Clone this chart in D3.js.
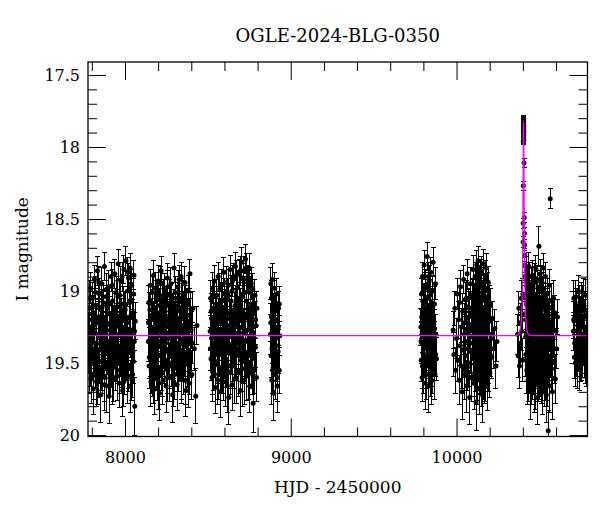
<!DOCTYPE html>
<html>
<head>
<meta charset="utf-8">
<script src="https://cdn.jsdelivr.net/npm/d3@7"></script>
<style>
  body { margin: 0; background: #fff; }
</style>
</head>
<body>
<svg id="chart" width="600" height="512"></svg>
<script>
// Light curve, one array per observing season: [HJD-2450000, I mag, error]
const season1 = [
  [7781,19.42,.15],[7784,19.12,.12],[7786,19.55,.16],[7789,19.25,.13],[7791,18.98,.11],[7794,19.38,.14],
  [7796,19.61,.17],[7799,19.20,.12],[7801,19.47,.15],[7804,19.05,.11],[7806,19.33,.14],[7809,19.68,.18],
  [7811,19.15,.12],[7814,19.40,.14],[7816,18.92,.10],[7819,19.29,.13],[7821,19.52,.16],[7824,19.10,.12],
  [7826,19.36,.14],[7829,19.63,.17],[7831,19.22,.13],[7834,18.86,.10],[7836,19.44,.15],[7839,19.18,.12],
  [7841,19.58,.16],[7844,19.31,.13],[7846,19.02,.11],[7849,19.49,.15],[7851,19.26,.13],[7854,19.72,.19],
  [7856,19.13,.12],[7859,19.39,.14],[7861,18.95,.11],[7864,19.55,.16],[7866,19.28,.13],[7869,19.08,.12],
  [7871,19.45,.15],[7874,19.34,.14],[7876,18.83,.10],[7879,19.60,.17],[7881,19.19,.12],[7884,19.41,.14],
  [7886,19.04,.11],[7889,19.27,.13],[7891,19.66,.18],[7894,19.12,.12],[7896,19.37,.14],[7899,19.50,.16],
  [7901,18.97,.11],[7904,19.73,.19],[7906,19.46,.15],[7909,19.16,.12],[7911,19.57,.16],[7914,19.30,.13],
  [7916,18.90,.10],[7919,19.43,.15],[7921,19.21,.13],[7924,19.62,.17],[7926,19.07,.11],[7929,19.35,.14],
  [7931,19.23,.13],[7934,19.14,.12],[7936,19.40,.14],[7939,18.88,.10],[7941,19.53,.16],[7944,19.25,.13],
  [7946,19.01,.11],[7949,19.48,.15],[7951,19.32,.14],[7954,19.11,.12],[7956,19.59,.17],[7959,18.81,.10],
  [7961,19.38,.14],[7964,19.20,.12],[7966,19.64,.17],[7969,19.03,.11],[7971,19.44,.15],[7974,19.28,.13],
  [7976,18.93,.10],[7979,19.51,.16],[7981,19.17,.12],[7984,19.36,.14],[7986,19.69,.18],[7989,19.09,.12],
  [7991,19.42,.15],[7994,18.85,.10],[7996,19.26,.13],[7999,19.56,.16],[8001,19.13,.12],[8004,19.33,.14],
  [8006,18.79,.10],[8009,19.47,.15],[8011,19.22,.13],[8014,19.61,.17],[8016,19.00,.11],[8019,19.39,.14],
  [8021,18.91,.10],[8024,19.54,.16],[8026,19.18,.12],[8029,19.30,.13],[8031,18.84,.10],[8034,19.66,.18],
  [8036,19.06,.11],[8039,19.43,.15],[8041,18.96,.11],[8044,19.27,.13],[8046,19.58,.16],[8049,19.15,.12],
  [8051,19.49,.15],[8054,18.89,.10],[8056,19.35,.14],[8059,19.80,.20],[8062,19.21,.13],
  [7782.5,19.28,.13],[7787.5,19.05,.12],[7792.5,19.50,.16],[7797.5,19.33,.14],[7802.5,19.16,.12],[7807.5,19.58,.17],
  [7812.5,19.24,.13],[7817.5,19.44,.15],[7822.5,19.01,.11],[7827.5,19.37,.14],[7832.5,19.62,.17],[7837.5,19.20,.13],
  [7842.5,18.94,.11],[7847.5,19.41,.15],[7852.5,19.29,.13],[7857.5,19.53,.16],[7862.5,19.11,.12],[7867.5,19.46,.15],
  [7872.5,19.19,.12],[7877.5,19.65,.18],[7882.5,19.31,.14],[7887.5,18.99,.11],[7892.5,19.43,.15],[7897.5,19.23,.13],
  [7902.5,19.57,.16],[7907.5,19.09,.12],[7912.5,19.35,.14],[7917.5,19.51,.16],[7922.5,18.96,.11],[7927.5,19.27,.13],
  [7932.5,19.60,.17],[7937.5,19.14,.12],[7942.5,19.39,.14],[7947.5,19.22,.13],[7952.5,19.49,.15],[7957.5,19.04,.11],
  [7962.5,19.30,.14],[7967.5,19.55,.16],[7972.5,19.17,.12],[7977.5,19.40,.15],[7982.5,18.90,.10],[7987.5,19.26,.13],
  [7992.5,19.63,.17],[7997.5,19.12,.12],[8002.5,19.45,.15],[8007.5,19.21,.13],[8012.5,19.36,.14],[8017.5,18.87,.10],
  [8022.5,19.52,.16],[8027.5,19.08,.12],[8032.5,19.32,.14],[8037.5,19.59,.17],[8042.5,19.18,.12],[8047.5,19.42,.15],
  [8052.5,19.02,.11],[8057.5,19.28,.13]
];
const season2 = [
  [8141,19.35,.14],[8144,19.08,.12],[8146,19.52,.16],[8149,19.21,.13],[8152,18.96,.11],[8154,19.44,.15],
  [8157,19.63,.17],[8160,19.17,.12],[8162,19.30,.13],[8165,19.01,.11],[8168,19.57,.16],[8170,19.26,.13],
  [8173,18.89,.10],[8176,19.41,.15],[8178,19.12,.12],[8181,19.68,.18],[8184,19.23,.13],[8186,19.47,.15],
  [8189,19.04,.11],[8192,19.34,.14],[8194,19.59,.17],[8197,19.15,.12],[8200,18.93,.11],[8202,19.38,.14],
  [8205,19.27,.13],[8208,19.71,.19],[8210,19.10,.12],[8213,19.45,.15],[8216,19.19,.12],[8218,18.86,.10],
  [8221,19.53,.16],[8224,19.32,.14],[8226,19.06,.11],[8229,19.62,.17],[8232,19.24,.13],[8234,19.40,.14],
  [8237,18.99,.11],[8240,19.49,.15],[8242,19.14,.12],[8245,19.36,.14],[8248,19.66,.18],[8250,19.09,.12],
  [8253,19.29,.13],[8256,18.91,.10],[8258,19.55,.16],[8261,19.20,.13],[8264,19.43,.15],[8266,19.03,.11],
  [8269,19.60,.17],[8272,19.31,.14],[8274,19.16,.12],[8277,18.95,.11],[8280,19.50,.16],[8282,19.25,.13],
  [8285,19.39,.14],[8288,19.72,.19],[8290,19.11,.12],[8293,19.46,.15],[8296,18.84,.10],[8298,19.33,.14],
  [8301,19.58,.17],[8304,19.18,.12],[8306,19.05,.11],[8309,19.42,.15],[8312,19.28,.13],[8314,19.65,.18],
  [8317,19.13,.12],[8320,18.97,.11],[8322,19.37,.14],[8325,19.54,.16],[8328,19.22,.13],[8330,19.07,.12],
  [8333,19.48,.15],[8336,19.34,.14],[8338,18.90,.10],[8341,19.61,.17],[8344,19.19,.12],[8346,19.41,.15],
  [8349,19.02,.11],[8352,19.30,.13],[8354,19.56,.16],[8357,19.15,.12],[8360,19.44,.15],[8362,18.94,.11],
  [8365,19.26,.13],[8368,19.69,.18],[8370,19.10,.12],[8373,19.38,.14],[8376,19.21,.13],[8378,19.51,.16],
  [8381,19.00,.11],[8384,19.35,.14],[8386,19.64,.17],[8389,19.17,.12],[8392,18.88,.10],[8395,19.45,.15],
  [8399,19.27,.13],[8404,19.58,.17],[8410,19.12,.12],[8418,19.40,.15],[8427,19.73,.19],[8434,19.24,.13],
  [8142.5,19.22,.13],[8147.5,19.46,.15],[8150.5,19.13,.12],[8155.5,19.30,.14],[8158.5,19.55,.16],[8163.5,19.09,.12],
  [8166.5,19.38,.14],[8171.5,19.61,.17],[8174.5,19.19,.12],[8179.5,19.42,.15],[8182.5,18.98,.11],[8187.5,19.27,.13],
  [8190.5,19.50,.16],[8195.5,19.06,.12],[8198.5,19.35,.14],[8203.5,19.64,.18],[8206.5,19.16,.12],[8211.5,19.31,.14],
  [8214.5,18.94,.11],[8219.5,19.44,.15],[8222.5,19.21,.13],[8227.5,19.57,.16],[8230.5,19.03,.11],[8235.5,19.28,.13],
  [8238.5,19.48,.15],[8243.5,19.11,.12],[8246.5,19.40,.15],[8251.5,19.24,.13],[8254.5,19.60,.17],[8259.5,18.97,.11],
  [8262.5,19.33,.14],[8267.5,19.18,.12],[8270.5,19.52,.16],[8275.5,19.29,.13],[8278.5,19.07,.12],[8283.5,19.45,.15],
  [8286.5,19.14,.12],[8291.5,19.36,.14],[8294.5,19.63,.17],[8299.5,19.20,.13],[8302.5,19.01,.11],[8307.5,19.39,.14],
  [8310.5,19.26,.13],[8315.5,19.54,.16],[8318.5,19.10,.12],[8323.5,19.32,.14],[8326.5,18.92,.10],[8331.5,19.47,.15],
  [8334.5,19.23,.13],[8339.5,19.58,.17],[8342.5,19.05,.12],[8347.5,19.37,.14],[8350.5,19.15,.12],[8355.5,19.43,.15],
  [8358.5,19.28,.13],[8363.5,19.62,.17],[8366.5,19.08,.12],[8371.5,19.34,.14],[8374.5,19.50,.16],[8379.5,19.17,.12],
  [8382.5,19.41,.15],[8387.5,19.25,.13],[8390.5,19.56,.16],[8397.5,19.13,.12],[8407.5,19.36,.14]
];
const season3 = [
  [8514,19.28,.13],[8517,19.05,.12],[8519,19.47,.15],[8522,19.19,.12],[8525,19.60,.17],[8527,18.98,.11],
  [8530,19.36,.14],[8533,19.12,.12],[8535,19.53,.16],[8538,19.25,.13],[8541,18.93,.11],[8543,19.42,.15],
  [8546,19.67,.18],[8549,19.16,.12],[8551,19.31,.13],[8554,19.03,.11],[8557,19.49,.15],[8559,19.22,.13],
  [8562,18.90,.10],[8565,19.58,.17],[8567,19.34,.14],[8570,19.09,.12],[8573,19.44,.15],[8575,19.70,.18],
  [8578,19.18,.12],[8581,18.96,.11],[8583,19.39,.14],[8586,19.27,.13],[8589,19.55,.16],[8591,19.06,.12],
  [8594,19.33,.14],[8597,18.87,.10],[8599,19.46,.15],[8602,19.21,.13],[8605,19.63,.17],[8607,19.11,.12],
  [8610,19.37,.14],[8613,18.94,.11],[8615,19.51,.16],[8618,19.24,.13],[8621,19.02,.11],[8623,19.41,.15],
  [8626,19.74,.19],[8629,19.15,.12],[8631,19.30,.13],[8634,18.85,.10],[8637,19.56,.16],[8639,19.20,.13],
  [8642,19.43,.15],[8645,19.00,.11],[8647,19.65,.18],[8650,19.26,.13],[8653,18.91,.10],[8655,19.38,.14],
  [8658,19.13,.12],[8661,19.52,.16],[8663,19.29,.13],[8666,18.83,.10],[8669,19.45,.15],[8671,19.08,.12],
  [8674,19.61,.17],[8677,19.23,.13],[8679,18.97,.11],[8682,19.40,.14],[8685,19.17,.12],[8687,19.57,.16],
  [8690,18.88,.10],[8693,19.32,.14],[8695,19.69,.18],[8698,19.10,.12],[8701,19.48,.15],[8703,18.80,.10],
  [8706,19.25,.13],[8709,19.54,.16],[8711,19.04,.11],[8714,19.36,.14],[8717,18.86,.10],[8719,19.62,.17],
  [8722,19.19,.12],[8725,19.44,.15],[8727,18.78,.10],[8730,19.28,.13],[8733,19.07,.12],[8735,19.59,.17],
  [8738,18.92,.10],[8741,19.35,.14],[8743,19.14,.12],[8746,19.50,.16],[8749,18.84,.10],[8751,19.27,.13],
  [8754,19.66,.18],[8757,19.01,.11],[8759,19.42,.15],[8762,18.95,.11],[8765,19.22,.13],[8767,19.56,.16],
  [8770,19.09,.12],[8773,19.78,.20],[8775,19.33,.14],[8778,19.16,.12],[8781,19.47,.15],[8784,19.03,.11],
  [8787,19.39,.14],[8790,19.24,.13],[8793,19.60,.17],[8796,19.12,.12],
  [8515.5,19.40,.15],[8520.5,19.14,.12],[8523.5,19.33,.14],[8528.5,19.56,.16],[8531.5,19.21,.13],[8536.5,19.04,.11],
  [8539.5,19.45,.15],[8544.5,19.27,.13],[8547.5,19.51,.16],[8552.5,19.09,.12],[8555.5,19.36,.14],[8560.5,19.62,.17],
  [8563.5,19.17,.12],[8568.5,19.41,.15],[8571.5,18.99,.11],[8576.5,19.30,.14],[8579.5,19.54,.16],[8584.5,19.12,.12],
  [8587.5,19.38,.14],[8592.5,19.23,.13],[8595.5,19.59,.17],[8600.5,19.02,.11],[8603.5,19.34,.14],[8608.5,19.47,.15],
  [8611.5,19.15,.12],[8616.5,19.66,.18],[8619.5,19.28,.13],[8624.5,18.96,.11],[8627.5,19.43,.15],[8632.5,19.19,.12],
  [8635.5,19.52,.16],[8640.5,19.07,.12],[8643.5,19.31,.14],[8648.5,18.93,.11],[8651.5,19.48,.15],[8656.5,19.24,.13],
  [8659.5,19.61,.17],[8664.5,19.10,.12],[8667.5,19.37,.14],[8672.5,18.89,.10],[8675.5,19.44,.15],[8680.5,19.20,.13],
  [8683.5,19.55,.16],[8688.5,19.05,.11],[8691.5,19.29,.13],[8696.5,18.86,.10],[8699.5,19.40,.15],[8704.5,19.14,.12],
  [8707.5,19.63,.17],[8712.5,18.91,.10],[8715.5,19.26,.13],[8720.5,19.49,.15],[8723.5,19.01,.11],[8728.5,19.34,.14],
  [8731.5,18.84,.10],[8736.5,19.45,.15],[8739.5,19.18,.12],[8744.5,19.58,.17],[8747.5,18.97,.11],[8752.5,19.32,.14],
  [8755.5,19.11,.12],[8760.5,19.52,.16],[8763.5,19.25,.13],[8768.5,19.41,.15],[8771.5,18.99,.11],[8776.5,19.29,.13],
  [8782.5,19.55,.16],[8788.5,19.20,.13]
];
const season4 = [
  [8878,19.30,.14],[8880,18.95,.11],[8882,19.45,.15],[8884,19.18,.12],[8886,19.62,.17],[8888,18.92,.11],
  [8890,19.36,.14],[8892,19.10,.12],[8894,19.53,.16],[8896,19.24,.13],[8898,19.71,.19],[8900,19.05,.12],
  [8902,19.40,.15],[8904,19.28,.13],[8906,19.58,.17],[8908,19.14,.12],[8910,19.33,.14],[8913,19.48,.15],
  [8915,19.02,.11],[8918,19.66,.18],[8921,19.21,.13],[8924,19.42,.15],[8927,19.12,.12],[8930,19.55,.16],
  [8934,19.31,.14],
  [8879,19.22,.13],[8883,19.05,.12],[8887,19.40,.15],[8891,19.55,.16],[8895,19.14,.12],[8899,19.33,.14],
  [8903,18.98,.11],[8907,19.47,.15],[8911,19.20,.13],[8916,19.38,.14],[8919,19.60,.17],[8925,19.25,.13],
  [8931,19.09,.12]
];
const season5 = [
  [9785,19.25,.13],[9787,19.48,.15],[9789,19.02,.11],[9791,19.36,.14],[9793,19.60,.17],[9795,18.90,.10],
  [9797,19.20,.13],[9799,19.43,.15],[9801,19.11,.12],[9803,19.55,.16],[9805,18.82,.10],[9807,19.31,.14],
  [9809,19.08,.12],[9811,19.64,.18],[9813,19.26,.13],[9815,18.96,.11],[9817,19.40,.15],[9819,19.15,.12],
  [9821,19.52,.16],[9823,18.76,.10],[9825,19.34,.14],[9827,19.05,.11],[9829,19.46,.15],[9831,19.22,.13],
  [9833,19.66,.18],[9835,18.93,.11],[9837,19.38,.14],[9839,19.13,.12],[9841,19.57,.16],[9843,19.28,.13],
  [9845,18.87,.10],[9847,19.44,.15],[9849,19.18,.12],[9851,19.62,.17],[9853,19.00,.11],[9855,19.33,.14],
  [9857,19.50,.16],[9859,18.80,.10],[9861,19.23,.13],[9864,19.41,.15],[9867,19.09,.12],[9870,19.58,.17],
  [9873,18.95,.11],[9876,19.30,.14],[9879,19.47,.15],
  [9786,19.35,.14],[9790,19.18,.12],[9794,19.52,.16],[9798,19.07,.12],[9802,19.30,.14],[9806,19.45,.15],
  [9810,18.98,.11],[9814,19.24,.13],[9818,19.58,.17],[9822,19.12,.12],[9826,19.39,.14],[9830,18.90,.10],
  [9834,19.28,.13],[9838,19.50,.16],[9842,19.03,.11],[9846,19.33,.14],[9850,19.20,.13],[9854,19.55,.16],
  [9858,19.10,.12],[9862,19.37,.14],[9868,19.26,.13],[9874,19.44,.15]
];
const season6 = [
  [9980,19.27,.13],[9984,19.44,.15],[9990,19.12,.12],[9995,19.55,.16],[10000,19.33,.14],[10004,19.02,.11],
  [10008,19.48,.15],[10012,19.20,.13],[10016,19.62,.17],[10019,19.08,.12],[10022,19.38,.14],[10025,18.97,.11],
  [10028,19.52,.16],[10031,19.25,.13],[10034,19.70,.19],[10037,19.14,.12],[10040,19.41,.15],[10043,18.92,.10],
  [10046,19.30,.14],[10049,19.58,.17],[10052,19.06,.12],[10055,19.45,.15],[10058,19.19,.12],[10061,19.66,.18],
  [10064,18.88,.10],[10067,19.35,.14],[10070,19.11,.12],[10073,19.50,.16],[10076,19.27,.13],[10079,19.74,.19],
  [10082,18.95,.11],[10085,19.42,.15],[10088,19.16,.12],[10091,19.60,.17],[10094,19.03,.11],[10097,19.32,.14],
  [10100,18.85,.10],[10102,19.47,.15],[10104,19.22,.13],[10106,19.64,.18],[10108,19.09,.12],[10110,19.37,.14],
  [10112,18.90,.10],[10114,19.54,.16],[10116,19.18,.12],[10118,19.77,.20],[10120,19.29,.13],[10122,18.82,.10],
  [10124,19.43,.15],[10126,19.05,.11],[10128,19.59,.17],[10130,18.79,.10],[10132,19.25,.13],[10134,19.48,.15],
  [10136,19.13,.12],[10138,19.68,.18],[10140,18.93,.11],[10142,19.36,.14],[10144,19.20,.13],[10146,19.56,.16],
  [10148,18.86,.10],[10150,19.31,.14],[10152,19.07,.12],[10154,19.45,.15],[10156,19.72,.19],[10158,19.15,.12],
  [10160,18.81,.10],[10162,19.40,.15],[10164,19.24,.13],[10166,19.61,.17],[10168,19.00,.11],[10170,19.34,.14],
  [10172,18.89,.10],[10174,19.52,.16],[10176,19.17,.12],[10178,19.42,.15],[10180,18.84,.10],[10182,19.28,.13],
  [10184,19.65,.18],[10186,19.04,.11],[10189,19.38,.14],[10192,18.94,.11],[10195,19.49,.15],[10198,19.21,.13],
  [10201,19.57,.17],[10205,19.10,.12],[10209,19.33,.14],[10213,19.46,.15],[10218,19.19,.12],[10224,19.40,.14],
  [10231,19.26,.13],[10238,19.52,.16],[10244,19.35,.14],
  [10047.5,19.22,.13],[10053.5,19.40,.15],[10059.5,19.05,.12],[10065.5,19.53,.16],[10071.5,19.28,.13],[10077.5,19.12,.12],
  [10083.5,19.36,.14],[10089.5,19.60,.17],[10095.5,19.18,.12],[10101,19.31,.14],[10103,19.02,.11],[10105,19.44,.15],
  [10107,19.25,.13],[10109,19.57,.16],[10111,19.14,.12],[10113,19.35,.14],[10115,18.96,.11],[10117,19.46,.15],
  [10119,19.21,.13],[10121,19.62,.17],[10123,19.09,.12],[10125,19.33,.14],[10127,18.92,.10],[10129,19.50,.16],
  [10131,19.17,.12],[10133,19.38,.14],[10135,19.01,.11],[10137,19.27,.13],[10139,19.55,.16],[10141,19.11,.12],
  [10143,19.43,.15],[10145,18.88,.10],[10147,19.30,.14],[10149,19.63,.17],[10151,19.20,.13],[10153,19.39,.14],
  [10155,19.04,.11],[10157,19.48,.15],[10159,19.26,.13],[10161,19.58,.17],[10163,18.95,.11],[10165,19.34,.14],
  [10167,19.13,.12],[10169,19.45,.15],[10171,19.23,.13],[10173,19.60,.17],[10175,19.06,.12],[10177,19.32,.14],
  [10179,19.51,.16],[10181,19.15,.12],[10183,19.41,.15],[10185,18.98,.11],[10187,19.29,.13],[10190,19.54,.16],
  [10193,19.18,.12],[10196,19.36,.14],[10199,19.08,.12],[10203,19.44,.15]
];
const season7 = [
  [10368,19.30,.14],[10372,19.45,.15],[10376,19.12,.12],[10380,19.52,.16],[10384,19.22,.13],[10387,19.38,.14],
  [10390,19.05,.12],[10393,19.28,.13],[10396,19.48,.15],[10398,19.16,.12],[10400,19.02,.11],
  [10401.5,18.66,.04],[10402.3,18.53,.035],[10402.8,18.27,.03],[10403.1,17.96,.025],[10403.4,17.93,.025],
  [10403.7,17.88,.02],[10404.0,17.84,.02],[10404.2,17.81,.02],[10404.4,17.86,.02],[10404.6,17.80,.02],
  [10404.8,17.83,.02],[10405.0,17.87,.02],[10405.2,17.82,.02],[10405.4,17.90,.025],[10405.6,17.85,.02],
  [10405.8,17.92,.025],[10406.0,17.89,.025],[10406.3,17.95,.025],[10407.2,18.11,.03],[10408.4,18.49,.035],
  [10409.3,18.60,.04],[10410.2,18.68,.04],[10411.3,18.75,.045],[10412.2,18.82,.05],[10413.4,18.90,.06],
  [10415,19.05,.11],[10417,19.32,.14],[10419,18.92,.10],[10421,19.48,.15],[10423,19.15,.12],[10425,18.86,.10],
  [10427,19.40,.15],[10429,19.22,.13],[10431,19.62,.17],[10433,19.00,.11],[10435,19.35,.14],[10437,18.83,.10],
  [10439,19.54,.16],[10441,19.18,.12],[10443,19.44,.15],[10445,19.08,.12],[10447,19.70,.19],[10449,19.27,.13],
  [10451,18.95,.11],[10453,19.38,.14],[10455,19.12,.12],[10457,19.58,.17],[10459,18.89,.10],[10461,19.30,.14],
  [10463,19.50,.16],[10465,19.03,.11],[10467,19.24,.13],[10469,19.66,.18],[10471,18.91,.10],[10473,19.42,.15],
  [10475,19.16,.12],[10477,19.55,.16],[10479,18.85,.10],[10481,19.33,.14],[10483,19.10,.12],[10485,19.47,.15],
  [10487,19.74,.19],[10489,19.20,.13],[10491,18.97,.11],[10493,19.37,.14],[10495,19.60,.17],[10497,18.69,.14],
  [10499,19.26,.13],[10501,19.06,.12],[10503,19.45,.15],[10505,18.88,.10],[10507,19.31,.14],[10509,19.57,.16],
  [10511,19.14,.12],[10513,18.93,.11],[10515,19.41,.15],[10517,19.68,.18],[10519,19.19,.12],[10521,19.01,.11],
  [10523,19.36,.14],[10525,18.84,.10],[10527,19.52,.16],[10529,19.23,.13],[10531,19.63,.17],[10533,19.09,.12],
  [10535,19.43,.15],[10537,18.90,.10],[10539,19.29,.13],[10541,19.72,.19],[10543,19.13,.12],[10545,19.48,.15],
  [10547,19.02,.11],[10549,19.34,.14],[10551,19.59,.17],[10553,19.97,.14],[10555,19.17,.12],[10557,19.40,.15],
  [10559,18.96,.11],[10561,19.66,.18],[10563,19.25,.13],[10565,18.36,.07],[10567,19.45,.15],[10570,19.07,.12],
  [10573,19.54,.16],[10576,19.21,.13],[10579,19.70,.19],[10582,19.32,.14],[10585,19.05,.12],[10588,19.49,.15],
  [10592,19.15,.12],[10596,19.61,.17],[10600,19.28,.13],[10604,19.40,.14],[10609,19.18,.12],
  [10416,19.20,.13],[10418,19.44,.15],[10420,19.09,.12],[10422,19.30,.14],[10424,19.55,.16],[10426,19.14,.12],
  [10428,19.37,.14],[10430,18.97,.11],[10432,19.46,.15],[10434,19.24,.13],[10436,19.60,.17],[10438,19.06,.12],
  [10440,19.33,.14],[10442,18.90,.10],[10444,19.50,.16],[10446,19.19,.12],[10448,19.41,.15],[10450,19.02,.11],
  [10452,19.28,.13],[10454,19.62,.17],[10456,19.16,.12],[10458,19.35,.14],[10460,19.08,.12],[10462,19.47,.15],
  [10464,19.21,.13],[10466,19.56,.16],[10468,18.94,.11],[10470,19.32,.14],[10472,19.13,.12],[10474,19.44,.15],
  [10476,19.25,.13],[10478,19.64,.18],[10480,19.04,.11],[10482,19.39,.14],[10484,19.18,.12],[10486,19.52,.16],
  [10488,18.92,.10],[10490,19.30,.14],[10492,19.11,.12],[10494,19.45,.15],[10496,19.22,.13],[10498,19.58,.17],
  [10500,19.00,.11],[10502,19.36,.14],[10504,19.15,.12],[10506,19.49,.15],[10508,19.27,.13],[10510,19.61,.17],
  [10512,19.05,.12],[10514,19.33,.14],[10516,19.12,.12],[10518,19.46,.15],[10520,19.24,.13],[10522,19.55,.16],
  [10524,18.98,.11],[10526,19.31,.14],[10528,19.17,.12],[10530,19.42,.15],[10532,19.26,.13],[10534,19.59,.17],
  [10536,19.07,.12],[10538,19.35,.14],[10540,19.19,.12],[10542,19.50,.16],[10544,19.30,.14],[10546,19.63,.17],
  [10548,19.10,.12],[10550,19.38,.14],[10552,19.21,.13],[10554,19.47,.15],[10558,19.28,.13],[10562,19.12,.12],
  [10568,19.36,.14],[10574,19.23,.13],[10580,19.44,.15]
];
const season8 = [
  [10705,19.28,.13],[10708,19.05,.12],[10711,19.46,.15],[10714,19.18,.12],[10717,19.50,.16],[10720,19.04,.11],
  [10723,19.35,.14],[10726,19.12,.12],[10729,19.52,.16],[10732,19.24,.13],[10735,19.00,.11],[10738,19.41,.15],
  [10741,19.53,.16],[10744,19.08,.12],[10747,19.31,.14],[10750,19.48,.15],[10753,19.05,.11],[10756,19.22,.13],
  [10759,19.45,.15],[10762,19.14,.12],[10765,19.38,.14],[10768,19.02,.11],[10771,19.45,.15],[10774,19.27,.13],
  [10777,19.48,.16],[10780,19.03,.11],[10783,19.33,.14],[10786,19.50,.16],[10789,19.16,.12],
  [10706.5,19.20,.13],[10712.5,19.36,.14],[10718.5,19.10,.12],[10724.5,19.44,.15],[10730.5,19.27,.13],
  [10736.5,19.14,.12],[10742.5,19.40,.15],[10748.5,19.22,.13],[10754.5,19.47,.15],[10760.5,19.08,.12],
  [10766.5,19.30,.14],[10772.5,19.18,.12],[10778.5,19.42,.15],[10784.5,19.25,.13]
];

// Microlensing model curve
const modelT = [7700, 10340, 10365, 10376, 10384, 10390, 10394.9, 10397.7, 10399.7, 10401.3, 10402.6, 10403.2,
  10403.7, 10404.5, 10405.3, 10405.8, 10406.4, 10407.7, 10409.3, 10411.9, 10414.1, 10419.1, 10424.5, 10432.5,
  10444.5, 10468.5, 10800];
const modelM = [19.31, 19.31, 19.308, 19.30, 19.27, 19.21, 19.10, 18.88, 18.61, 18.31, 18.06, 17.94,
  17.85, 17.82, 17.85, 17.94, 18.06, 18.31, 18.61, 18.88, 19.10, 19.21, 19.27, 19.30,
  19.308, 19.31, 19.31];

const xMajor = [8000, 9000, 10000];
const xMinor = [7800, 8200, 8400, 8600, 8800, 9200, 9400, 9600, 9800, 10200, 10400, 10600];
const yMajor = [17.5, 18, 18.5, 19, 19.5, 20];
const yMinor = [17.6, 17.7, 17.8, 17.9, 18.1, 18.2, 18.3, 18.4, 18.6, 18.7, 18.8, 18.9,
  19.1, 19.2, 19.3, 19.4, 19.6, 19.7, 19.8, 19.9];

const titleText = 'OGLE-2024-BLG-0350';
const xLabel = 'HJD - 2450000';
const yLabel = 'I magnitude';

const W = 600, H = 512;
const M = { top: 62, right: 12.5, bottom: 75.5, left: 88 };
const FONT = '"DejaVu Serif", "Liberation Serif", serif';

const svg = d3.select('#chart');

const x = d3.scaleLinear().domain([7777, 10790]).range([M.left, W - M.right]);
const y = d3.scaleLinear().domain([17.41, 20.01]).range([M.top, H - M.bottom]);

svg.append('defs').append('clipPath').attr('id', 'plot-clip')
  .append('rect')
  .attr('x', M.left).attr('y', M.top)
  .attr('width', W - M.left - M.right).attr('height', H - M.top - M.bottom);

const points = [season1, season2, season3, season4, season5, season6, season7, season8].flat();

const plot = svg.append('g').attr('clip-path', 'url(#plot-clip)');

// error bars with caps, snapped to pixels so they stay solid black
const bars = plot.append('g')
  .attr('stroke', '#000')
  .attr('stroke-width', 1)
  .attr('shape-rendering', 'crispEdges');
bars.selectAll('line.err')
  .data(points)
  .join('line')
  .attr('class', 'err')
  .attr('x1', (d) => x(d[0])).attr('x2', (d) => x(d[0]))
  .attr('y1', (d) => y(d[1] - d[2])).attr('y2', (d) => y(d[1] + d[2]));
bars.selectAll('line.cap-top')
  .data(points)
  .join('line')
  .attr('class', 'cap-top')
  .attr('x1', (d) => x(d[0]) - 2.5).attr('x2', (d) => x(d[0]) + 2.5)
  .attr('y1', (d) => y(d[1] - d[2])).attr('y2', (d) => y(d[1] - d[2]));
bars.selectAll('line.cap-bot')
  .data(points)
  .join('line')
  .attr('class', 'cap-bot')
  .attr('x1', (d) => x(d[0]) - 2.5).attr('x2', (d) => x(d[0]) + 2.5)
  .attr('y1', (d) => y(d[1] + d[2])).attr('y2', (d) => y(d[1] + d[2]));

plot.append('g')
  .selectAll('circle')
  .data(points)
  .join('circle')
  .attr('cx', (d) => x(d[0]))
  .attr('cy', (d) => y(d[1]))
  .attr('r', 2.5)
  .attr('fill', '#000');

// model
const model = modelT.map((t, i) => [t, modelM[i]]);
plot.append('path')
  .datum(model)
  .attr('fill', 'none')
  .attr('stroke', '#ff00ff')
  .attr('stroke-width', 1.2)
  .attr('d', d3.line().x((d) => x(d[0])).y((d) => y(d[1])).curve(d3.curveMonotoneX));

// axes: inward ticks on all four sides
const bottomY = H - M.bottom;
const rightX = W - M.right;

function styleAxis(g) {
  g.select('.domain').remove();
  g.selectAll('.tick line').attr('stroke', '#000').attr('stroke-width', 1);
  g.selectAll('.tick text')
    .attr('fill', '#000')
    .style('font-family', FONT)
    .style('font-size', '16px');
}

svg.append('g').attr('transform', `translate(0,${bottomY})`)
  .call(d3.axisBottom(x).tickValues(xMajor).tickSize(-18).tickPadding(15).tickFormat(d3.format('d')))
  .call(styleAxis);
svg.append('g').attr('transform', `translate(0,${bottomY})`)
  .call(d3.axisBottom(x).tickValues(xMinor).tickSize(-9).tickFormat(''))
  .call(styleAxis);
svg.append('g').attr('transform', `translate(0,${M.top})`)
  .call(d3.axisTop(x).tickValues(xMajor).tickSize(-18).tickFormat(''))
  .call(styleAxis);
svg.append('g').attr('transform', `translate(0,${M.top})`)
  .call(d3.axisTop(x).tickValues(xMinor).tickSize(-9).tickFormat(''))
  .call(styleAxis);

svg.append('g').attr('transform', `translate(${M.left},0)`)
  .call(d3.axisLeft(y).tickValues(yMajor).tickSize(-18).tickPadding(8).tickFormat((d) => String(d)))
  .call(styleAxis);
svg.append('g').attr('transform', `translate(${M.left},0)`)
  .call(d3.axisLeft(y).tickValues(yMinor).tickSize(-9).tickFormat(''))
  .call(styleAxis);
svg.append('g').attr('transform', `translate(${rightX},0)`)
  .call(d3.axisRight(y).tickValues(yMajor).tickSize(-18).tickFormat(''))
  .call(styleAxis);
svg.append('g').attr('transform', `translate(${rightX},0)`)
  .call(d3.axisRight(y).tickValues(yMinor).tickSize(-9).tickFormat(''))
  .call(styleAxis);

// frame
svg.append('rect')
  .attr('x', M.left).attr('y', M.top)
  .attr('width', W - M.left - M.right).attr('height', H - M.top - M.bottom)
  .attr('fill', 'none').attr('stroke', '#000').attr('stroke-width', 1.3);

// labels
const cx = (M.left + rightX) / 2;
svg.append('text')
  .attr('x', cx).attr('y', 41.5)
  .attr('text-anchor', 'middle')
  .style('font-family', FONT).style('font-size', '18px')
  .text(titleText);
svg.append('text')
  .attr('x', cx).attr('y', 493)
  .attr('text-anchor', 'middle')
  .style('font-family', FONT).style('font-size', '17px')
  .text(xLabel);
svg.append('text')
  .attr('transform', `translate(28,${(M.top + bottomY) / 2}) rotate(-90)`)
  .attr('text-anchor', 'middle')
  .style('font-family', FONT).style('font-size', '17px')
  .text(yLabel);
</script>
</body>
</html>
